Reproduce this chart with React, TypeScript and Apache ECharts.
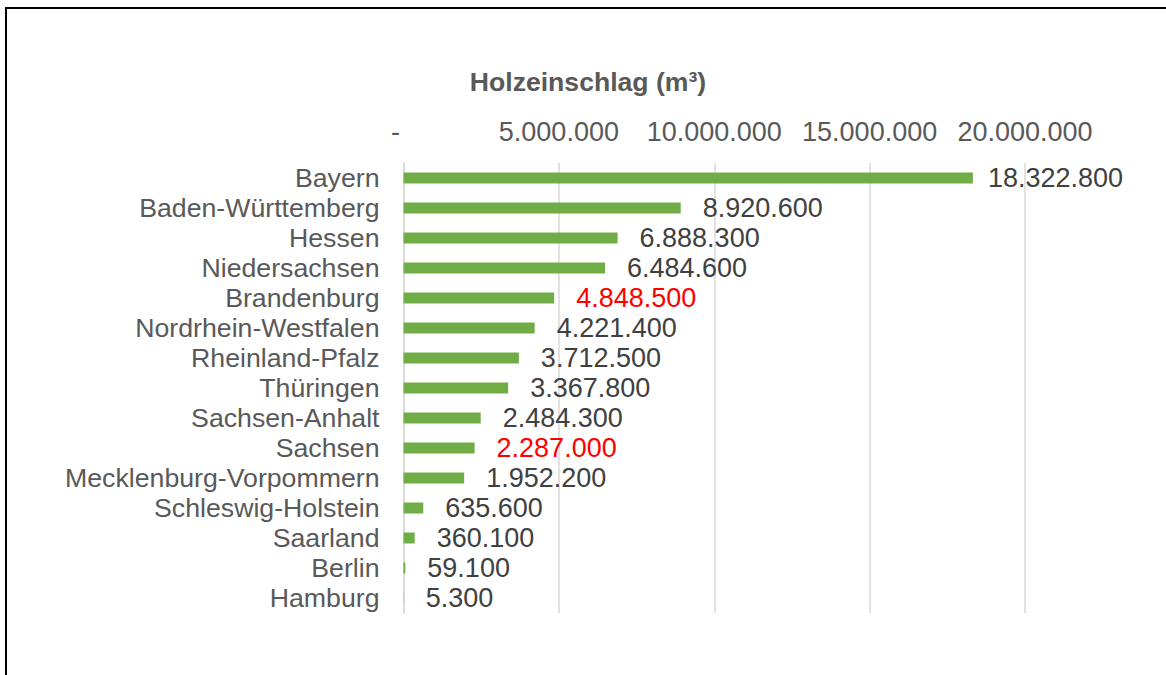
import React, { useEffect, useRef } from "react";
import * as echarts from "echarts";

const categories = [
  "Bayern",
  "Baden-Württemberg",
  "Hessen",
  "Niedersachsen",
  "Brandenburg",
  "Nordrhein-Westfalen",
  "Rheinland-Pfalz",
  "Thüringen",
  "Sachsen-Anhalt",
  "Sachsen",
  "Mecklenburg-Vorpommern",
  "Schleswig-Holstein",
  "Saarland",
  "Berlin",
  "Hamburg",
];
const values = [
  18322800, 8920600, 6888300, 6484600, 4848500, 4221400, 3712500, 3367800,
  2484300, 2287000, 1952200, 635600, 360100, 59100, 5300,
];
const highlighted = ["Brandenburg", "Sachsen"];
const titleText = "Holzeinschlag (m³)";
const axisMax = 20000000;
const axisStep = 5000000;

const FONT = "'Liberation Sans', Arial, sans-serif";
const FS = 27;

function fmt(v: number): string {
  return Math.round(v)
    .toString()
    .replace(/\B(?=(\d{3})+(?!\d))/g, ".");
}

export default function App() {
  const ref = useRef<HTMLDivElement>(null);
  useEffect(() => {
    if (!ref.current) return;
    const chart = echarts.init(ref.current, undefined, { renderer: "svg" });
    const data = values.map((v, i) => {
      const red = highlighted.includes(categories[i]);
      const item: any = {
        value: v,
        label: { color: red ? "#FF0000" : "#404040" },
      };
      if (i === 0) item.label.distance = 15;
      return item;
    });
    chart.setOption({
      animation: false,
      backgroundColor: "#ffffff",
      graphic: [
        {
          type: "line",
          shape: { x1: 6, y1: 7, x2: 6, y2: 675 },
          style: { stroke: "#000", lineWidth: 2 },
        },
        {
          type: "line",
          shape: { x1: 5, y1: 8, x2: 1166, y2: 8 },
          style: { stroke: "#000", lineWidth: 2 },
        },
        {
          type: "text",
          x: 588,
          y: 82,
          style: {
            text: titleText,
            fill: "#595959",
            font: `bold 26.6px ${FONT}`,
            align: "center",
            verticalAlign: "middle",
          },
        },
      ],
      grid: { left: 403.5, right: 141, top: 163, bottom: 62, containLabel: false },
      xAxis: {
        type: "value",
        position: "top",
        min: 0,
        max: axisMax,
        interval: axisStep,
        axisLine: { show: false },
        axisTick: { show: false },
        splitLine: { show: true, lineStyle: { color: "#D9D9D9", width: 1.5 } },
        axisLabel: {
          margin: 18,
          color: "#595959",
          fontSize: FS,
          fontFamily: FONT,
          formatter: (v: number) => (v === 0 ? "{z|-}" : fmt(v)),
          rich: {
            z: {
              color: "#595959",
              fontSize: FS,
              fontFamily: FONT,
              padding: [0, 16, 0, 0],
            },
          },
        },
      },
      yAxis: {
        type: "category",
        inverse: true,
        data: categories,
        axisLine: { show: true, lineStyle: { color: "#D9D9D9", width: 1.5 } },
        axisTick: { show: false },
        axisLabel: {
          interval: 0,
          margin: 24,
          color: "#595959",
          fontSize: 26.7,
          fontFamily: FONT,
        },
      },
      series: [
        {
          type: "bar",
          data,
          barWidth: 11,
          itemStyle: { color: "#70AD47" },
          label: {
            show: true,
            position: "right",
            distance: 22,
            fontSize: FS,
            fontFamily: FONT,
            formatter: (p: any) => fmt(p.value),
          },
        },
      ],
    });
    return () => chart.dispose();
  }, []);
  return (
    <div
      ref={ref}
      style={{ position: "fixed", left: 0, top: 0, width: 1166, height: 675 }}
    />
  );
}
